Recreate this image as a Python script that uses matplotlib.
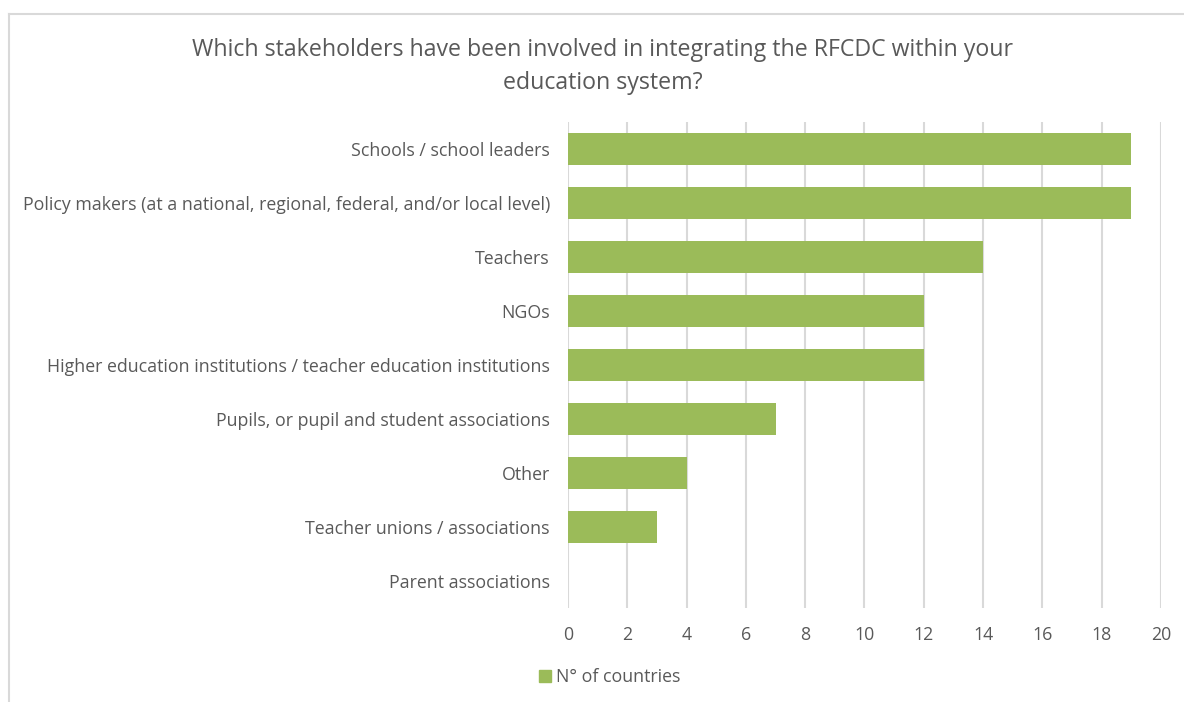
import matplotlib.pyplot as plt
from matplotlib.lines import Line2D
from matplotlib.patches import Patch

plt.rcParams['font.family'] = ['Open Sans', 'DejaVu Sans']

stakeholders = [
    "Schools / school leaders",
    "Policy makers (at a national, regional, federal, and/or local level)",
    "Teachers",
    "NGOs",
    "Higher education institutions / teacher education institutions",
    "Pupils, or pupil and student associations",
    "Other",
    "Teacher unions / associations",
    "Parent associations",
]
countries = [19, 19, 14, 12, 12, 7, 4, 3, 0]
xticks = [0, 2, 4, 6, 8, 10, 12, 14, 16, 18, 20]

green = "#9bbb59"
txt = "#595959"
grid = "#d9d9d9"

fig = plt.figure(figsize=(11.84, 7.02), dpi=100)
ax = fig.add_axes([0.4797, 0.1339, 0.5009, 0.6923])

ypos = list(range(len(stakeholders)))
ax.barh(ypos, countries, height=0.6, color=green, zorder=3)
ax.set_ylim(len(stakeholders) - 0.5, -0.5)
ax.set_xlim(0, 20)
ax.set_xticks(xticks)
ax.set_yticks(ypos)
ax.set_yticklabels(stakeholders)
ax.tick_params(axis='both', length=0, colors=txt, labelsize=12.8)
ax.tick_params(axis='y', pad=13)
ax.tick_params(axis='x', pad=13)
ax.grid(axis='x', color=grid, linewidth=1.5, zorder=0)
for s in ax.spines.values():
    s.set_visible(False)

fig.text(0.509, 0.929, "Which stakeholders have been involved in integrating the RFCDC within your",
         ha='center', va='center', fontsize=16.7, color=txt)
fig.text(0.509, 0.882, "education system?", ha='center', va='center', fontsize=16.7, color=txt)

fig.legend(handles=[Patch(color=green, label="N° of countries")],
           loc='center', bbox_to_anchor=(0.515, 0.035), frameon=False,
           fontsize=12.8, labelcolor=txt, handlelength=0.7, handleheight=0.7,
           handletextpad=0.3)

# outer chart frame on the left and top
fig.add_artist(Line2D([0.008, 0.008], [0.0, 0.98], color=grid, linewidth=1.5))
fig.add_artist(Line2D([0.008, 1.0], [0.98, 0.98], color=grid, linewidth=1.5))

fig.savefig("out.png", dpi=100, facecolor="white")
